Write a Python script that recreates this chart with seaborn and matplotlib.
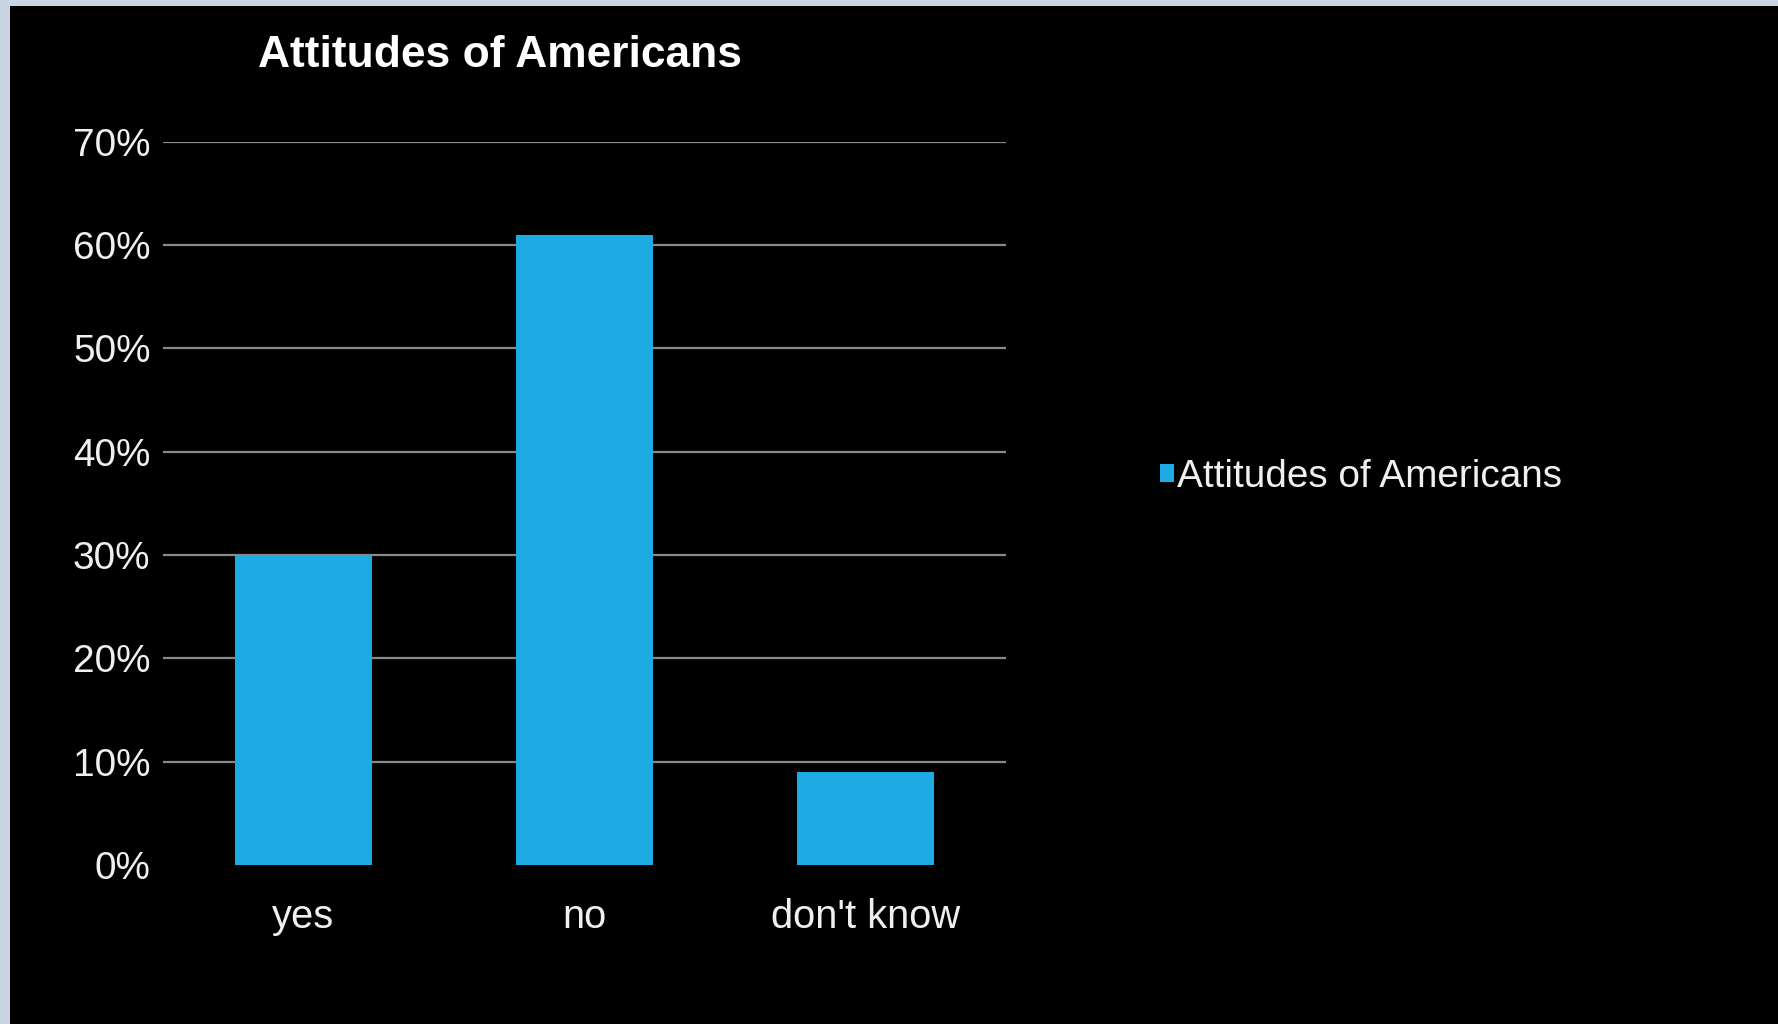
import matplotlib
matplotlib.use("Agg")
import matplotlib.pyplot as plt
from matplotlib import font_manager
from matplotlib.patches import Rectangle
from matplotlib.ticker import PercentFormatter
import seaborn as sns
import pandas as pd

# ---- data ----
categories = ["yes", "no", "don't know"]
shares = [0.30, 0.61, 0.09]
series_name = "Attitudes of Americans"
title_text = "Attitudes of Americans"
y_ticks = [0.0, 0.1, 0.2, 0.3, 0.4, 0.5, 0.6, 0.7]

df = pd.DataFrame({"answer": categories, "share": shares, "series": [series_name] * len(categories)})

# ---- font choice ----
def available(name):
    try:
        font_manager.findfont(font_manager.FontProperties(family=name), fallback_to_default=False)
        return True
    except Exception:
        return False

if available("Liberation Sans Narrow"):
    FAMILY = "Liberation Sans Narrow"
    SCALE = 1.0
else:
    FAMILY = "Liberation Sans"
    SCALE = 0.82

sns.set_theme(style="dark")
plt.rcParams["font.family"] = [FAMILY, "DejaVu Sans"]

W, H = 1778, 1024
fig = plt.figure(figsize=(W / 100, H / 100), dpi=100)
fig.patch.set_facecolor("#c9d5e4")
fig.patches.append(Rectangle((10 / W, 0), 1 - 10 / W, 1 - 6 / H, transform=fig.transFigure,
                             facecolor="black", edgecolor="none", zorder=-5))

ax = fig.add_axes([163 / W, 1 - 865 / H, (1006 - 163) / W, (865 - 141.7) / H])
ax.set_facecolor("black")
ax.set_zorder(1)

bar_color = "#1eaae2"
sns.barplot(data=df, x="answer", y="share", hue="series", palette=[bar_color],
            saturation=1, width=0.49, ax=ax, legend=True, zorder=3, linewidth=0)

ax.set_xlim(-0.5, 2.5)
ax.set_ylim(0, 0.7)
ax.set_yticks(y_ticks)
ax.yaxis.set_major_formatter(PercentFormatter(1.0, decimals=0))
ax.set_xlabel("")
ax.set_ylabel("")
for s in ax.spines.values():
    s.set_visible(False)

ax.grid(axis="y", color="#8a8a8a", linewidth=1.6, zorder=0)
ax.grid(axis="x", visible=False)
ax.set_axisbelow(True)
ax.yaxis.get_gridlines()[0].set_visible(False)

txt_color = "#f0f0f0"
ax.tick_params(axis="y", length=0, pad=9, labelsize=34 * SCALE, labelcolor=txt_color)
ax.tick_params(axis="x", length=0, pad=24, labelsize=35 * SCALE, labelcolor=txt_color)

handles, labels = ax.get_legend_handles_labels()
ax.get_legend().remove()
for h in handles:
    h.set_edgecolor("none")
    h.set_linewidth(0)
fig.legend(handles, labels, loc="center left", bbox_to_anchor=(1160 / W, 1 - 477 / H),
           frameon=False, fontsize=34 * SCALE, handlelength=0.35, handleheight=0.35,
           handletextpad=0.1, borderpad=0, borderaxespad=0, labelcolor=txt_color)

fig.text(500 / W, 1 - 67 / H, title_text, ha="center", va="baseline", color="white",
         fontsize=39 * SCALE, fontweight="bold")

fig.savefig("out.png", dpi=100, facecolor=fig.get_facecolor())
